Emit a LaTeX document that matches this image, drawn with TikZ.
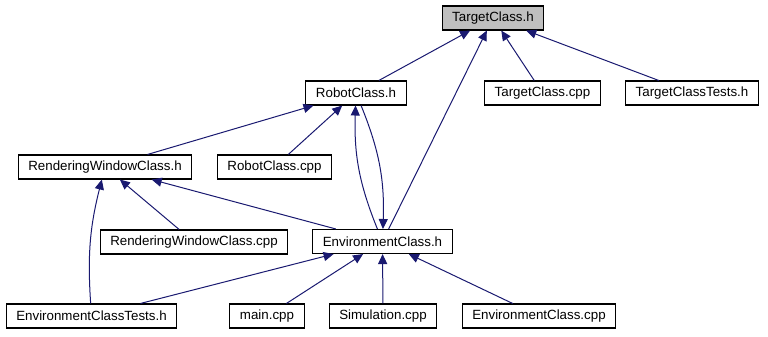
\documentclass[tikz,border=0pt]{standalone}
\usepackage{fontspec}
\setmainfont{Liberation Sans}
\usetikzlibrary{arrows.meta}
\definecolor{incblue}{RGB}{25,25,112}
\definecolor{rootgray}{RGB}{191,191,191}

\begin{document}
\begin{tikzpicture}[x=0.75pt,y=-0.75pt,font=\fontsize{10}{12}\selectfont,
  file/.style={draw,line width=0.8pt,fill=white,minimum height=18pt,inner xsep=7.6pt,inner ysep=0pt},
  inc/.style={draw=incblue,line width=0.75pt,-{Triangle[length=7.5pt,width=6.8pt]}}]
\useasboundingbox (0,0) rectangle (768,336);
% header files and their includers
\node[file,fill=rootgray] (target) at (493,18) {TargetClass.h};
\node[file] (robot) at (356,93) {RobotClass.h};
\node[file] (targetcpp) at (542.5,93) {TargetClass.cpp};
\node[file] (targettests) at (692,93) {TargetClassTests.h};
\node[file] (rend) at (105,167) {RenderingWindowClass.h};
\node[file] (robotcpp) at (274.5,167) {RobotClass.cpp};
\node[file] (rendcpp) at (194,242) {RenderingWindowClass.cpp};
\node[file] (env) at (382.5,241.5) {EnvironmentClass.h};
\node[file] (envtests) at (91.5,316) {EnvironmentClassTests.h};
\node[file] (maincpp) at (267,316) {main.cpp};
\node[file] (sim) at (383,316) {Simulation.cpp};
\node[file] (envcpp) at (539,316) {EnvironmentClass.cpp};
% include edges, arrow at the included file
\draw[inc] (robot) -- (target);
\draw[inc] (env) -- (target);
\draw[inc] (targetcpp) -- (target);
\draw[inc] (targettests) -- (target);
\draw[inc] (rend) -- (robot);
\draw[inc] (robotcpp) -- (robot);
\draw[inc] (env) to[bend left=12] (robot);
\draw[inc] (robot) to[bend left=12] (env);
\draw[inc] (rendcpp) -- (rend);
\draw[inc] (env) -- (rend);
\draw[inc] (envtests) to[bend left=9] (rend);
\draw[inc] (envtests) -- (env);
\draw[inc] (maincpp) -- (env);
\draw[inc] (sim) -- (env);
\draw[inc] (envcpp) -- (env);
\end{tikzpicture}
\end{document}
